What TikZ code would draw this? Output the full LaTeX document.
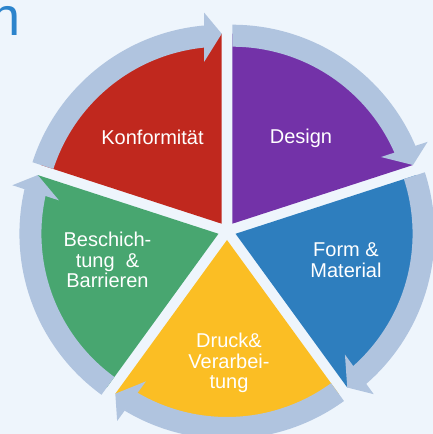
\documentclass[tikz,border=0pt]{standalone}
\usepackage{fontspec}
\setmainfont{Liberation Sans}
\usetikzlibrary{calc}
\definecolor{bg}{RGB}{238,245,252}
\definecolor{ring}{RGB}{176,196,223}
\definecolor{titleblue}{RGB}{44,132,204}
\definecolor{segred}{RGB}{192,40,30}
\definecolor{segpurple}{RGB}{115,50,168}
\definecolor{segblue}{RGB}{46,126,190}
\definecolor{segyellow}{RGB}{251,190,36}
\definecolor{seggreen}{RGB}{72,166,112}
\begin{document}
\begin{tikzpicture}[x=1pt,y=1pt,
  seglabel/.style={text=white, font=\fontsize{20}{20.5}\selectfont, align=center, inner sep=0pt}]
  \clip (0,0) rectangle (433,434);
  \fill[bg] (0,0) rectangle (433,434);
  % last letter of the heading
  \node[anchor=base west, text=titleblue, font=\fontsize{54}{54}\selectfont, inner sep=0pt] (title) at (-10,398) {n};
  \coordinate (C) at (227,203);
  % exploded pie segments
  \foreach \ang/\col in {54/segpurple, -18/segblue, -90/segyellow, 198/seggreen, 126/segred} {
    \begin{scope}[shift={($(C)+(\ang:9)$)}, rotate=\ang]
      \fill[\col] (0,0) -- (36:190) arc[start angle=36, end angle=-36, radius=190] -- cycle;
    \end{scope}
  }
  % clockwise ring arrows, one per segment
  \foreach \ang in {54, -18, -90, 198, 126} {
    \begin{scope}[shift={($(C)+(\ang:9)$)}, rotate=\ang]
      \fill[ring] (36:199) arc[start angle=36, end angle=-31, radius=199]
        -- (-31:177) arc[start angle=-31, end angle=36, radius=177] -- cycle;
      \begin{scope}[rotate=-36]
        \fill[ring] (190,0) -- (211,17.5) -- (162,17.5) -- cycle;
      \end{scope}
    \end{scope}
  }
  % labels
  \node[seglabel] (konf) at (152.5,297) {Konformität};
  \node[seglabel] (design) at (301,296) {Design};
  \node[seglabel] (form) at (346,174) {Form \&\\Material};
  \node[seglabel] (besch) at (107.5,174) {Beschich-\\tung\ \ \&\\Barrieren};
  \node[seglabel] (druck) at (229,71) {Druck\&\\Verarbei-\\tung};
\end{tikzpicture}
\end{document}
